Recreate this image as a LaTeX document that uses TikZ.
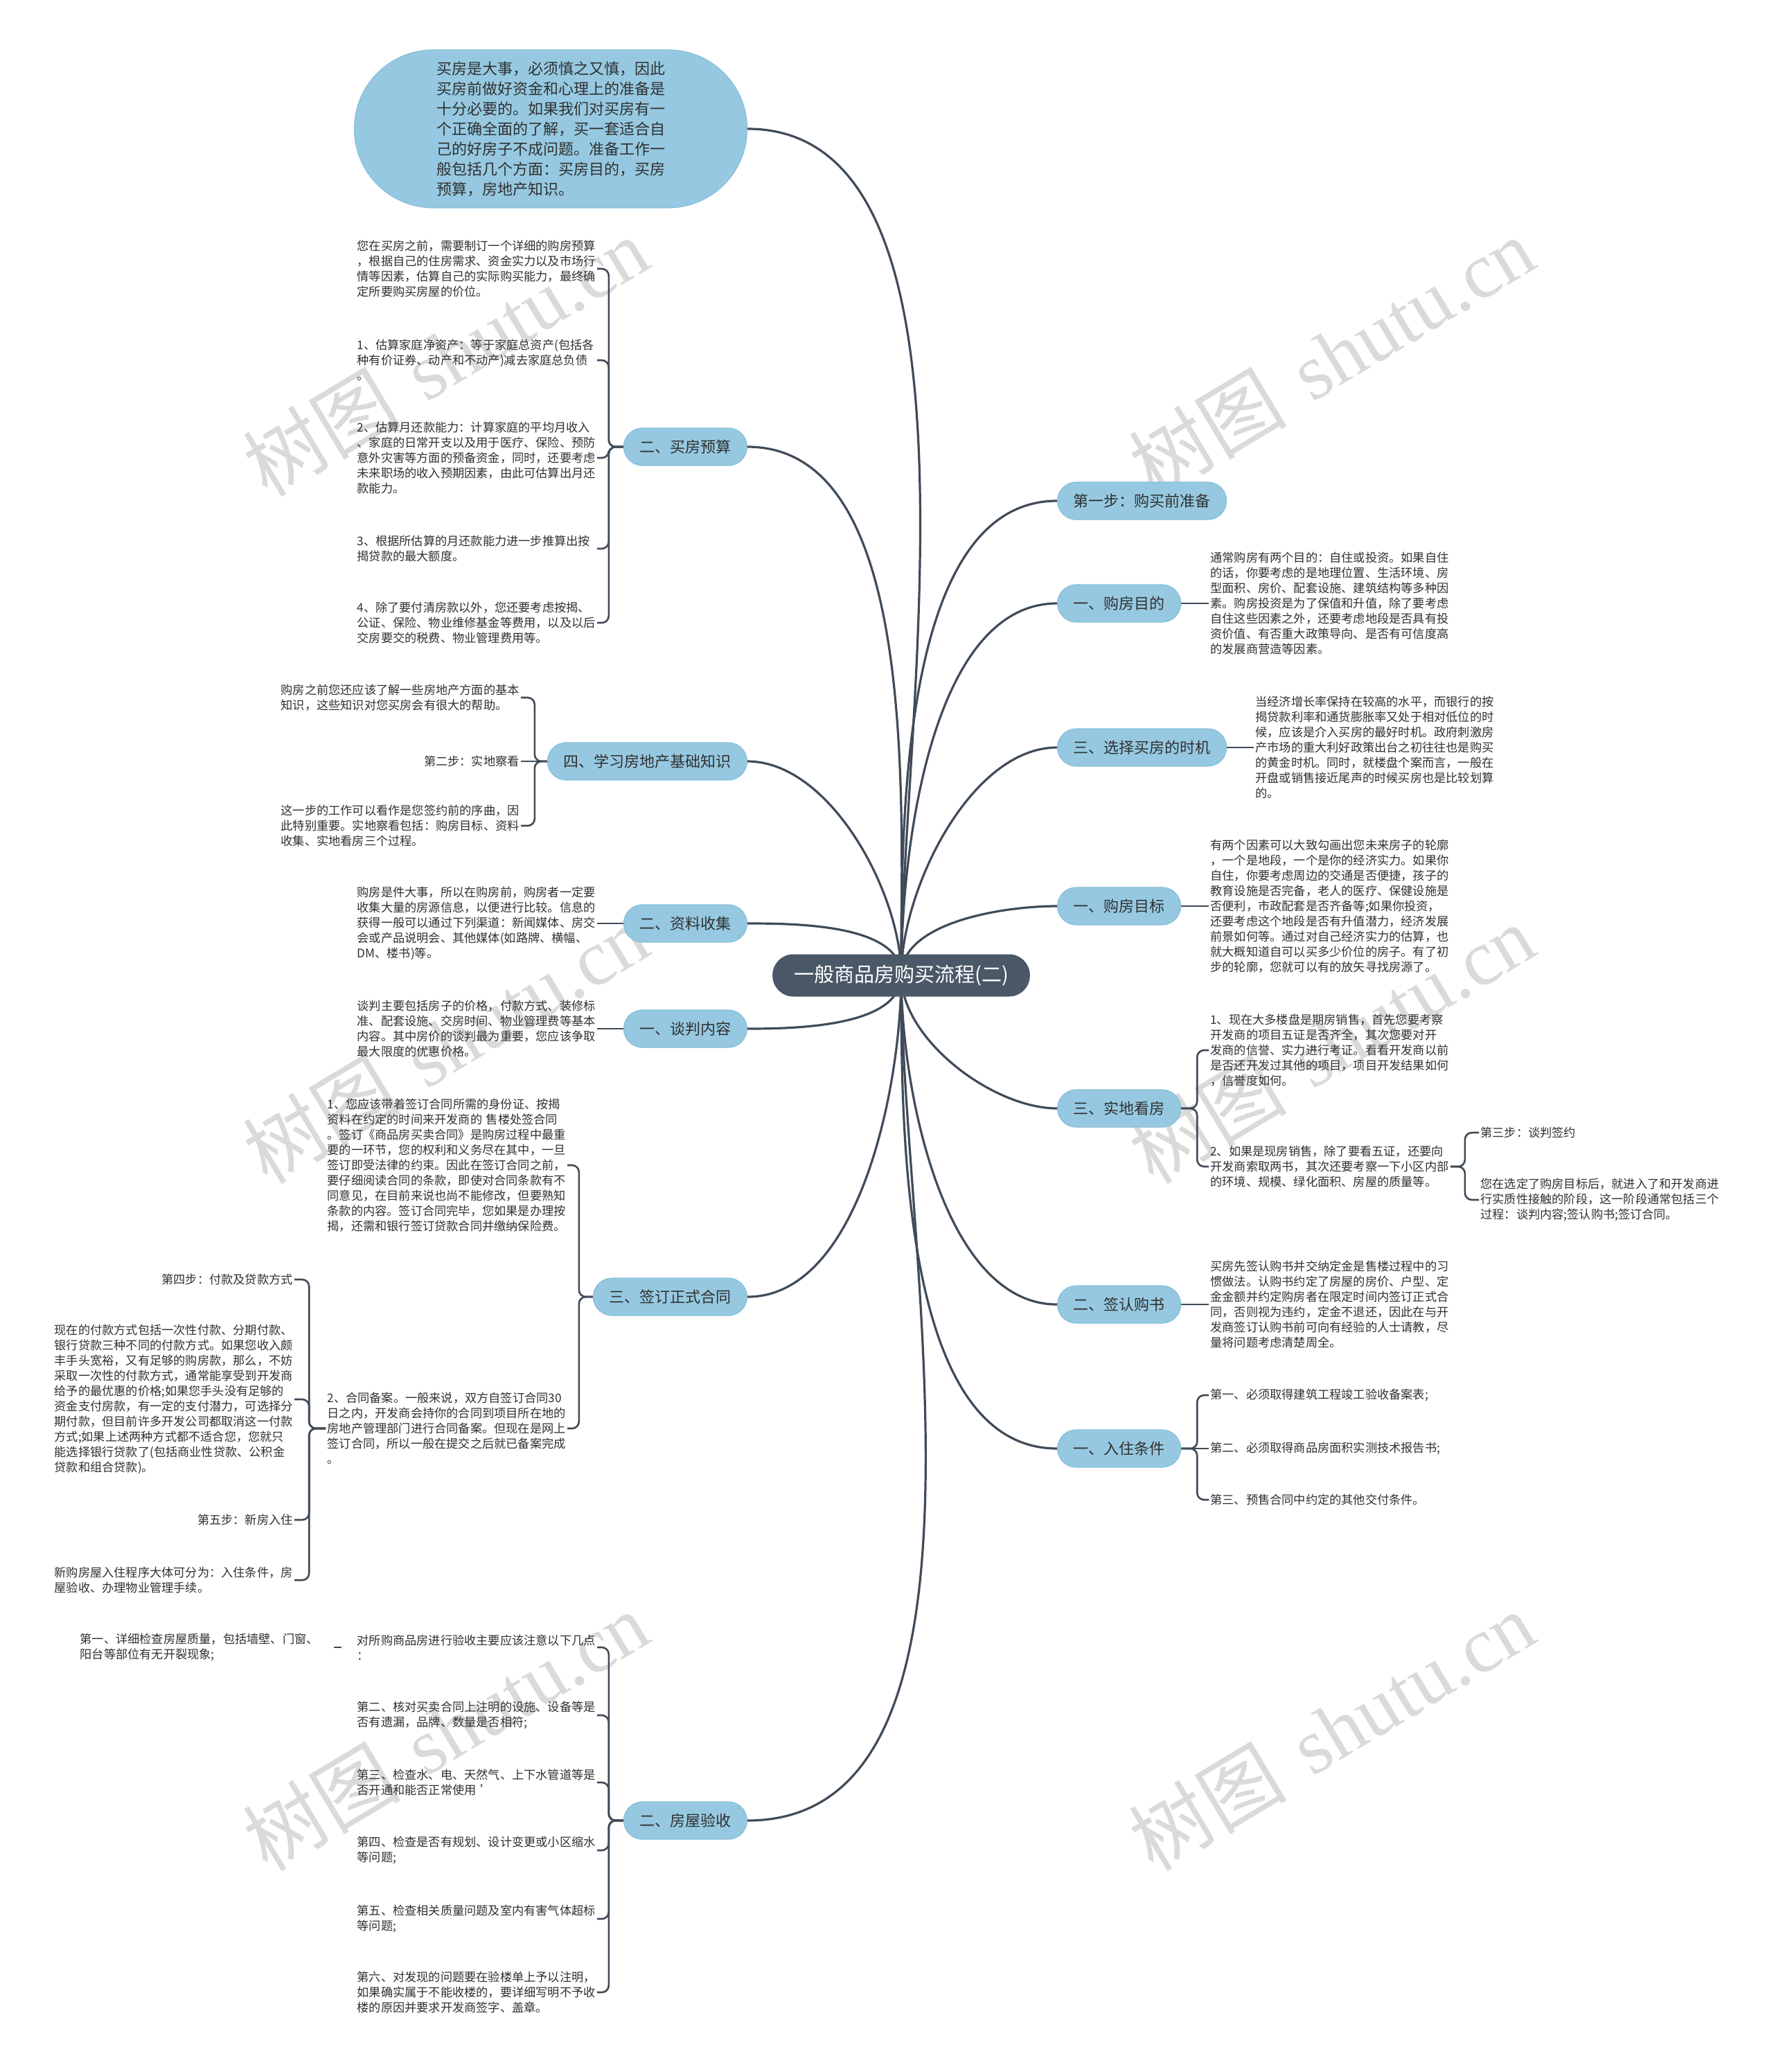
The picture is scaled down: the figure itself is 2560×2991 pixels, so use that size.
\documentclass[tikz,border=0pt]{standalone}
\usepackage{fontspec}
\setmainfont{Noto Sans CJK SC}
\newfontfamily\wmlatin{Liberation Serif}
\usetikzlibrary{backgrounds}
\definecolor{blu}{HTML}{96C9E1}
\definecolor{blud}{HTML}{86BDD9}
\definecolor{cen}{HTML}{4A5868}
\definecolor{lc}{HTML}{3F4B58}
\definecolor{tc}{HTML}{303030}
\definecolor{wm}{HTML}{DADADA}
\tikzset{
  conn/.style={draw=lc, line width=1.6pt},
  brk/.style={draw=lc, line width=1.3pt, rounded corners=5pt},
  lnk/.style={draw=lc, line width=1.3pt},
  mainb/.style={fill=blu, draw=blud, line width=0.6pt, rounded corners=13.5pt, minimum height=27pt, inner xsep=11.5pt, inner ysep=0pt, text=tc, font=\fontsize{11pt}{13pt}\selectfont},
  centre/.style={fill=cen, text=white, rounded corners=15pt, minimum height=30.5pt, inner xsep=15.5pt, inner ysep=0pt, font=\fontsize{14.5pt}{17pt}\selectfont},
  bubble/.style={fill=blu, draw=blud, line width=0.6pt, rounded corners=57pt, minimum width=283.5pt, minimum height=114pt, align=left, text=tc, font=\fontsize{11pt}{14.5pt}\selectfont},
  txt/.style={text=tc, inner sep=1pt, align=left, font=\fontsize{8.6pt}{11pt}\selectfont},
  tb/.style={txt, text width=172pt},
  wmark/.style={text=wm, rotate=31, font=\fontsize{57pt}{60pt}\selectfont},
}
\begin{document}
\begin{tikzpicture}[x=0.5pt,y=-0.5pt]
\useasboundingbox (0,0) rectangle (2560,2991);

% centre and intro
\node[centre] (c) at (1301,1408) {一般商品房购买流程(二)};
\node[bubble] (intro) at (795,186) {买房是大事，必须慎之又慎，因此\\买房前做好资金和心理上的准备是\\十分必要的。如果我们对买房有一\\个正确全面的了解，买一套适合自\\己的好房子不成问题。准备工作一\\般包括几个方面：买房目的，买房\\预算，房地产知识。};

% right branches
\node[mainb, anchor=west] (r1) at (1526,723) {第一步：购买前准备};
\node[mainb, anchor=west] (r2) at (1526,871) {一、购房目的};
\node[mainb, anchor=west] (r3) at (1526,1079) {三、选择买房的时机};
\node[mainb, anchor=west] (r4) at (1526,1308) {一、购房目标};
\node[mainb, anchor=west] (r5) at (1526,1600) {三、实地看房};
\node[mainb, anchor=west] (r6) at (1526,1883) {二、签认购书};
\node[mainb, anchor=west] (r7) at (1526,2091) {一、入住条件};

\node[tb, anchor=west] (r2t) at (1745,871) {通常购房有两个目的：自住或投资。如果自住\\的话，你要考虑的是地理位置、生活环境、房\\型面积、房价、配套设施、建筑结构等多种因\\素。购房投资是为了保值和升值，除了要考虑\\自住这些因素之外，还要考虑地段是否具有投\\资价值、有否重大政策导向、是否有可信度高\\的发展商营造等因素。};
\node[tb, anchor=west] (r3t) at (1810,1079) {当经济增长率保持在较高的水平，而银行的按\\揭贷款利率和通货膨胀率又处于相对低位的时\\候，应该是介入买房的最好时机。政府刺激房\\产市场的重大利好政策出台之初往往也是购买\\的黄金时机。同时，就楼盘个案而言，一般在\\开盘或销售接近尾声的时候买房也是比较划算\\的。};
\node[tb, anchor=west] (r4t) at (1745,1308) {有两个因素可以大致勾画出您未来房子的轮廓\\，一个是地段，一个是你的经济实力。如果你\\自住，你要考虑周边的交通是否便捷，孩子的\\教育设施是否完备，老人的医疗、保健设施是\\否便利，市政配套是否齐备等;如果你投资，\\还要考虑这个地段是否有升值潜力，经济发展\\前景如何等。通过对自己经济实力的估算，也\\就大概知道自可以买多少价位的房子。有了初\\步的轮廓，您就可以有的放矢寻找房源了。};
\node[tb, anchor=west] (r5a) at (1745,1516) {1、现在大多楼盘是期房销售，首先您要考察\\开发商的项目五证是否齐全，其次您要对开\\发商的信誉、实力进行考证。看看开发商以前\\是否还开发过其他的项目，项目开发结果如何\\，信誉度如何。};
\node[tb, anchor=west] (r5b) at (1745,1684) {2、如果是现房销售，除了要看五证，还要向\\开发商索取两书，其次还要考察一下小区内部\\的环境、规模、绿化面积、房屋的质量等。};
\node[txt, anchor=west] (r5b1) at (2135,1635) {第三步：谈判签约};
\node[tb, anchor=west] (r5b2) at (2135,1732) {您在选定了购房目标后，就进入了和开发商进\\行实质性接触的阶段，这一阶段通常包括三个\\过程：谈判内容;签认购书;签订合同。};
\node[tb, anchor=west] (r6t) at (1745,1883) {买房先签认购书并交纳定金是售楼过程中的习\\惯做法。认购书约定了房屋的房价、户型、定\\金金额并约定购房者在限定时间内签订正式合\\同，否则视为违约，定金不退还，因此在与开\\发商签订认购书前可向有经验的人士请教，尽\\量将问题考虑清楚周全。};
\node[txt, anchor=west] (r7a) at (1745,2014) {第一、必须取得建筑工程竣工验收备案表;};
\node[txt, anchor=west] (r7b) at (1745,2091) {第二、必须取得商品房面积实测技术报告书;};
\node[txt, anchor=west] (r7c) at (1745,2165) {第三、预售合同中约定的其他交付条件。};

% left branches
\node[mainb, anchor=east] (l1) at (1079,645) {二、买房预算};
\node[mainb, anchor=east] (l2) at (1079,1099) {四、学习房地产基础知识};
\node[mainb, anchor=east] (l3) at (1079,1333) {二、资料收集};
\node[mainb, anchor=east] (l4) at (1079,1485) {一、谈判内容};
\node[mainb, anchor=east] (l5) at (1079,1872) {三、签订正式合同};
\node[mainb, anchor=east] (l6) at (1079,2628) {二、房屋验收};

\node[tb, anchor=east] (l1a) at (862,388) {您在买房之前，需要制订一个详细的购房预算\\，根据自己的住房需求、资金实力以及市场行\\情等因素，估算自己的实际购买能力，最终确\\定所要购买房屋的价位。};
\node[tb, anchor=east] (l1b) at (862,520) {1、估算家庭净资产：等于家庭总资产(包括各\\种有价证券、动产和不动产)减去家庭总负债\\。};
\node[tb, anchor=east] (l1c) at (862,661) {2、估算月还款能力：计算家庭的平均月收入\\、家庭的日常开支以及用于医疗、保险、预防\\意外灾害等方面的预备资金，同时，还要考虑\\未来职场的收入预期因素，由此可估算出月还\\款能力。};
\node[tb, anchor=east] (l1d) at (862,792) {3、根据所估算的月还款能力进一步推算出按\\揭贷款的最大额度。};
\node[tb, anchor=east] (l1e) at (862,899) {4、除了要付清房款以外，您还要考虑按揭、\\公证、保险、物业维修基金等费用，以及以后\\交房要交的税费、物业管理费用等。};

\node[tb, anchor=east] (l2a) at (752,1007) {购房之前您还应该了解一些房地产方面的基本\\知识，这些知识对您买房会有很大的帮助。};
\node[txt, anchor=east] (l2b) at (752,1099) {第二步：实地察看};
\node[tb, anchor=east] (l2c) at (752,1192) {这一步的工作可以看作是您签约前的序曲，因\\此特别重要。实地察看包括：购房目标、资料\\收集、实地看房三个过程。};

\node[tb, anchor=east] (l3t) at (862,1333) {购房是件大事，所以在购房前，购房者一定要\\收集大量的房源信息，以便进行比较。信息的\\获得一般可以通过下列渠道：新闻媒体、房交\\会或产品说明会、其他媒体(如路牌、横幅、\\DM、楼书)等。};
\node[tb, anchor=east] (l4t) at (862,1485) {谈判主要包括房子的价格，付款方式、装修标\\准、配套设施、交房时间、物业管理费等基本\\内容。其中房价的谈判最为重要，您应该争取\\最大限度的优惠价格。};

\node[tb, anchor=east] (l5a) at (819,1682) {1、您应该带着签订合同所需的身份证、按揭\\资料在约定的时间来开发商的 售楼处签合同\\。签订《商品房买卖合同》是购房过程中最重\\要的一环节，您的权利和义务尽在其中，一旦\\签订即受法律的约束。因此在签订合同之前，\\要仔细阅读合同的条款，即使对合同条款有不\\同意见，在目前来说也尚不能修改，但要熟知\\条款的内容。签订合同完毕，您如果是办理按\\揭，还需和银行签订贷款合同并缴纳保险费。};
\node[tb, anchor=east] (l5b) at (819,2062) {2、合同备案。一般来说，双方自签订合同30\\日之内，开发商会持你的合同到项目所在地的\\房地产管理部门进行合同备案。但现在是网上\\签订合同，所以一般在提交之后就已备案完成\\。};
\node[txt, anchor=east] (l5b1) at (425,1847) {第四步：付款及贷款方式};
\node[tb, anchor=east] (l5b2) at (425,2020) {现在的付款方式包括一次性付款、分期付款、\\银行贷款三种不同的付款方式。如果您收入颇\\丰手头宽裕，又有足够的购房款，那么，不妨\\采取一次性的付款方式，通常能享受到开发商\\给予的最优惠的价格;如果您手头没有足够的\\资金支付房款，有一定的支付潜力，可选择分\\期付款，但目前许多开发公司都取消这一付款\\方式;如果上述两种方式都不适合您，您就只\\能选择银行贷款了(包括商业性贷款、公积金\\贷款和组合贷款)。};
\node[txt, anchor=east] (l5b3) at (425,2194) {第五步：新房入住};
\node[tb, anchor=east] (l5b4) at (425,2281) {新购房屋入住程序大体可分为：入住条件，房\\屋验收、办理物业管理手续。};

\node[tb, anchor=east] (l6a) at (862,2378) {对所购商品房进行验收主要应该注意以下几点\\：};
\node[tb, anchor=east] (l6a1) at (462,2378) {第一、详细检查房屋质量，包括墙壁、门窗、\\阳台等部位有无开裂现象;};
\node[tb, anchor=east] (l6b) at (862,2476) {第二、核对买卖合同上注明的设施、设备等是\\否有遗漏，品牌、数量是否相符;};
\node[tb, anchor=east] (l6c) at (862,2573) {第三、检查水、电、天然气、上下水管道等是\\否开通和能否正常使用 ’};
\node[tb, anchor=east] (l6d) at (862,2671) {第四、检查是否有规划、设计变更或小区缩水\\等问题;};
\node[tb, anchor=east] (l6e) at (862,2770) {第五、检查相关质量问题及室内有害气体超标\\等问题;};
\node[tb, anchor=east] (l6f) at (862,2876) {第六、对发现的问题要在验楼单上予以注明，\\如果确实属于不能收楼的，要详细写明不予收\\楼的原因并要求开发商签字、盖章。};

\begin{scope}[on background layer]
\fill[white] (0,0) rectangle (2560,2991);
\foreach \wx/\wy [count=\i] in {643/515,1922/515,643/1507,1922/1507,643/2499,1922/2499}
  \node[wmark] (wm\i) at (\wx,\wy) {树图\hspace{0.35em}{\wmlatin shutu.cn}};

% main curves
\draw[conn] (c.center) to[out=90,in=0,looseness=0.75] (intro.east);
\draw[conn] (c.center) to[out=90,in=180,looseness=0.8] (r1.west);
\draw[conn] (c.center) to[out=90,in=180,looseness=0.8] (r2.west);
\draw[conn] (c.center) to[out=90,in=180,looseness=0.8] (r3.west);
\draw[conn] (c.center) to[out=90,in=180,looseness=0.8] (r4.west);
\draw[conn] (c.center) to[out=-90,in=180,looseness=0.8] (r5.west);
\draw[conn] (c.center) to[out=-90,in=180,looseness=0.8] (r6.west);
\draw[conn] (c.center) to[out=-90,in=180,looseness=0.8] (r7.west);
\draw[conn] (c.center) to[out=90,in=0,looseness=0.8] (l1.east);
\draw[conn] (c.center) to[out=90,in=0,looseness=0.8] (l2.east);
\draw[conn] (c.center) to[out=90,in=0,looseness=0.8] (l3.east);
\draw[conn] (c.center) to[out=-90,in=0,looseness=0.8] (l4.east);
\draw[conn] (c.center) to[out=-90,in=0,looseness=0.8] (l5.east);
\draw[conn] (c.center) to[out=-90,in=0,looseness=0.8] (l6.east);

% direct links
\draw[lnk] (r2.east) -- (r2t.west);
\draw[lnk] (r3.east) -- (r3t.west);
\draw[lnk] (r4.east) -- (r4t.west);
\draw[lnk] (r6.east) -- (r6t.west);
\draw[lnk] (r7.east) -- (r7b.west);
\draw[lnk] (l3.west) -- (l3t.east);
\draw[lnk] (l4.west) -- (l4t.east);
\draw[lnk] (l2.west) -- (l2b.east);
\draw[lnk] ([xshift=-10]l6a.west) -- ([xshift=10]l6a1.east);

% brackets right
\draw[brk] (r5.east) -- ++(23,0) |- (r5a.west);
\draw[brk] (r5.east) -- ++(23,0) |- (r5b.west);
\draw[brk] (r5b.east) -- ++(21,0) |- (r5b1.west);
\draw[brk] (r5b.east) -- ++(21,0) |- (r5b2.west);
\draw[brk] (r7.east) -- ++(23,0) |- (r7a.west);
\draw[brk] (r7.east) -- ++(23,0) |- (r7c.west);

% brackets left
\foreach \k in {a,b,c,d,e}
  \draw[brk] (l1.west) -- ++(-21,0) |- (l1\k.east);
\draw[brk] (l2.west) -- ++(-18,0) |- (l2a.east);
\draw[brk] (l2.west) -- ++(-18,0) |- (l2c.east);
\draw[brk] (l5.west) -- ++(-20,0) |- (l5a.east);
\draw[brk] (l5.west) -- ++(-20,0) |- (l5b.east);
\foreach \k in {1,2,3,4}
  \draw[brk] (l5b.west) -- ++(-24,0) |- (l5b\k.east);
\foreach \k in {a,b,c,d,e,f}
  \draw[brk] (l6.west) -- ++(-21,0) |- (l6\k.east);
\end{scope}
\end{tikzpicture}
\end{document}
